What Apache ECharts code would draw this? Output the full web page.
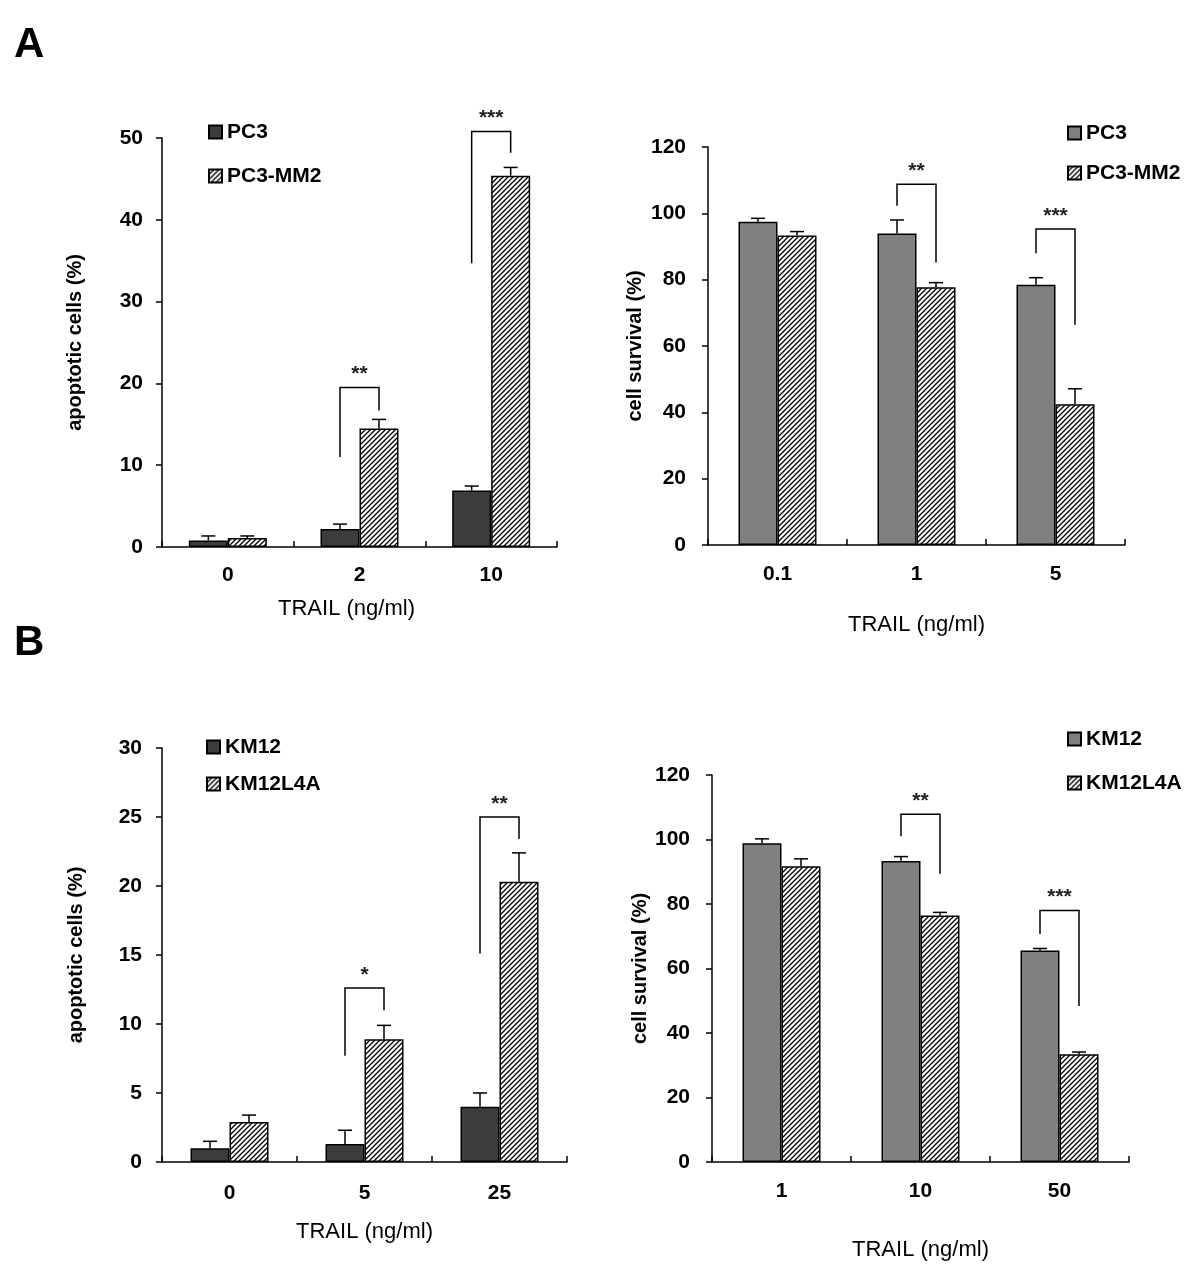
<!DOCTYPE html>
<html><head><meta charset="utf-8">
<script src="https://cdn.jsdelivr.net/npm/echarts@6/dist/echarts.min.js"></script>
<style>html,body{margin:0;padding:0;background:#fff}#c{width:1200px;height:1287px}</style>
</head><body><div id="c"></div>
<script>
// ---------- DATA ----------
const catsA1 = ['0', '2', '10'];
const pc3Apop = [0.8, 2.2, 6.9];
const pc3ApopErr = [0.55, 0.6, 0.55];
const mm2Apop = [1.1, 14.5, 45.4];
const mm2ApopErr = [0.25, 1.1, 1.0];
const sigA1 = [[1, 11.0, 19.5, 16.7], [2, 34.7, 50.8, 48.2]];
const sigA1Labels = ['**', '***'];

const catsA2 = ['0.1', '1', '5'];
const pc3Surv = [97.5, 93.9, 78.5];
const pc3SurvErr = [1.0, 4.1, 2.1];
const mm2Surv = [93.3, 77.7, 42.4];
const mm2SurvErr = [1.2, 1.4, 4.7];
const sigA2 = [[1, 102.3, 108.8, 85.2], [2, 88.0, 95.3, 66.4]];
const sigA2Labels = ['**', '***'];

const catsB1 = ['0', '5', '25'];
const km12Apop = [1.0, 1.3, 4.0];
const km12ApopErr = [0.5, 1.0, 1.0];
const l4aApop = [2.9, 8.9, 20.3];
const l4aApopErr = [0.5, 1.0, 2.1];
const sigB1 = [[1, 7.7, 12.6, 11.0], [2, 15.1, 25.0, 23.4]];
const sigB1Labels = ['*', '**'];

const catsB2 = ['1', '10', '50'];
const km12Surv = [98.8, 93.3, 65.6];
const km12SurvErr = [1.4, 1.4, 0.6];
const l4aSurv = [91.7, 76.4, 33.4];
const l4aSurvErr = [2.3, 1.0, 0.7];
const sigB2 = [[1, 101.0, 107.8, 89.4], [2, 70.7, 78.0, 48.4]];
const sigB2Labels = ['**', '***'];

const yMax = [50, 120, 30, 120];
const yInterval = [10, 20, 5, 20];
const yNames = ['apoptotic cells (%)', 'cell survival (%)', 'apoptotic cells (%)', 'cell survival (%)'];
const xName = 'TRAIL (ng/ml)';

// ---------- STYLE HELPERS ----------
const FONT = 'Liberation Sans';
const BW = 39;

function hatchCanvas() {
  const s = 5;
  const c = document.createElement('canvas');
  c.width = s; c.height = s;
  const g = c.getContext('2d');
  g.fillStyle = '#fff'; g.fillRect(0, 0, s, s);
  g.strokeStyle = '#000'; g.lineWidth = 1.3;
  g.beginPath();
  g.moveTo(-1, s + 1); g.lineTo(s + 1, -1);
  g.moveTo(-1, 1); g.lineTo(1, -1);
  g.moveTo(s - 1, s + 1); g.lineTo(s + 1, s - 1);
  g.stroke();
  return c;
}
const hatch = { image: hatchCanvas(), repeat: 'repeat' };

function errRender(off) {
  return function (params, api) {
    const c = api.value(0);
    const x = api.coord([c, 0])[0] + off;
    const y0 = api.coord([c, api.value(1)])[1];
    const y1 = api.coord([c, api.value(1) + api.value(2)])[1];
    return { type: 'group', children: [
      { type: 'line', shape: { x1: x, y1: y0, x2: x, y2: y1 }, style: { stroke: '#000', lineWidth: 1.5 } },
      { type: 'line', shape: { x1: x - 7, y1: y1, x2: x + 7, y2: y1 }, style: { stroke: '#000', lineWidth: 1.5 } }
    ] };
  };
}
function sigRender(labels) {
  return function (params, api) {
    const c = api.value(0);
    const xc = api.coord([c, 0])[0];
    const xL = xc - BW / 2, xR = xc + BW / 2;
    const yl = api.coord([c, api.value(1)])[1];
    const yt = api.coord([c, api.value(2)])[1];
    const yr = api.coord([c, api.value(3)])[1];
    return { type: 'group', children: [
      { type: 'polyline', shape: { points: [[xL, yl], [xL, yt], [xR, yt], [xR, yr]] }, style: { stroke: '#000', lineWidth: 1.5, fill: 'none' } },
      { type: 'text', x: (xL + xR) / 2, y: yt - 13, style: { text: labels[params.dataIndex], fontSize: 21, fontWeight: 'bold', fontFamily: FONT, fill: '#222', align: 'center', verticalAlign: 'middle' } }
    ] };
  };
}

const grids = [
  { left: 162, top: 138, width: 395, height: 409 },
  { left: 708, top: 147, width: 417, height: 398 },
  { left: 162, top: 748, width: 405, height: 414 },
  { left: 712, top: 775, width: 417, height: 387 }
];
const xCats = [catsA1, catsA2, catsB1, catsB2];
const xLabelMargin = [18, 19, 21, 19];
const xNameGap = [51, 69, 59, 77];
const xNamePad = [[0, 26, 0, 0], 0, 0, 0];
const yNameGap = [77, 63, 76, 62];
const yLabelMargin = [19, 22, 20, 22];

const panels = [
  { n1: 'PC3', n2: 'PC3-MM2', c1: '#3c3c3c', s1: pc3Apop, e1: pc3ApopErr, s2: mm2Apop, e2: mm2ApopErr, sig: sigA1, lab: sigA1Labels },
  { n1: 'PC3#2', n2: 'PC3-MM2#2', c1: '#808080', s1: pc3Surv, e1: pc3SurvErr, s2: mm2Surv, e2: mm2SurvErr, sig: sigA2, lab: sigA2Labels },
  { n1: 'KM12', n2: 'KM12L4A', c1: '#3c3c3c', s1: km12Apop, e1: km12ApopErr, s2: l4aApop, e2: l4aApopErr, sig: sigB1, lab: sigB1Labels },
  { n1: 'KM12#2', n2: 'KM12L4A#2', c1: '#808080', s1: km12Surv, e1: km12SurvErr, s2: l4aSurv, e2: l4aSurvErr, sig: sigB2, lab: sigB2Labels }
];
const legendPos = [
  { left: 208, top: 120, itemGap: 20 },
  { left: 1067, top: 121, itemGap: 16 },
  { left: 206, top: 735, itemGap: 13 },
  { left: 1067, top: 727, itemGap: 20 }
];

const xAxis = [], yAxis = [], series = [], legend = [];
panels.forEach((p, i) => {
  xAxis.push({
    type: 'category', gridIndex: i, data: xCats[i],
    name: xName, nameLocation: 'middle', nameGap: xNameGap[i],
    nameTextStyle: { fontFamily: FONT, fontSize: 22, color: '#000', padding: xNamePad[i] },
    axisLine: { lineStyle: { color: '#000', width: 1.5 } },
    axisTick: { show: true, inside: true, length: 6, lineStyle: { color: '#000', width: 1.5 } },
    axisLabel: { fontFamily: FONT, fontSize: 21, fontWeight: 'bold', color: '#000', margin: xLabelMargin[i] },
    splitLine: { show: false }
  });
  yAxis.push({
    type: 'value', gridIndex: i, min: 0, max: yMax[i], interval: yInterval[i],
    name: yNames[i], nameLocation: 'middle', nameGap: yNameGap[i], nameRotate: 90,
    nameTextStyle: { fontFamily: FONT, fontSize: 20, fontWeight: 'bold', color: '#000' },
    axisLine: { show: true, lineStyle: { color: '#000', width: 1.5 } },
    axisTick: { show: true, inside: false, length: 6, lineStyle: { color: '#000', width: 1.5 } },
    axisLabel: { fontFamily: FONT, fontSize: 21, fontWeight: 'bold', color: '#000', margin: yLabelMargin[i] },
    splitLine: { show: false }
  });
  series.push({
    type: 'bar', name: p.n1, xAxisIndex: i, yAxisIndex: i, data: p.s1,
    barWidth: BW, barGap: '0%',
    itemStyle: { color: p.c1, borderColor: '#000', borderWidth: 1.5 }
  });
  series.push({
    type: 'bar', name: p.n2, xAxisIndex: i, yAxisIndex: i, data: p.s2,
    barWidth: BW, barGap: '0%',
    itemStyle: { color: hatch, borderColor: '#000', borderWidth: 1.5 }
  });
  series.push({
    type: 'custom', xAxisIndex: i, yAxisIndex: i, clip: false, z: 5,
    renderItem: errRender(-BW / 2),
    data: p.s1.map((v, k) => [k, v, p.e1[k]])
  });
  series.push({
    type: 'custom', xAxisIndex: i, yAxisIndex: i, clip: false, z: 5,
    renderItem: errRender(BW / 2),
    data: p.s2.map((v, k) => [k, v, p.e2[k]])
  });
  series.push({
    type: 'custom', xAxisIndex: i, yAxisIndex: i, clip: false, z: 6,
    renderItem: sigRender(p.lab),
    data: p.sig
  });
  legend.push({
    data: [p.n1, p.n2], orient: 'vertical', left: legendPos[i].left, top: legendPos[i].top,
    itemGap: legendPos[i].itemGap, padding: 0, itemWidth: 13, itemHeight: 13, icon: 'rect',
    selectedMode: false,
    formatter: name => name.replace(/#\d$/, ''),
    textStyle: { fontFamily: FONT, fontSize: 21, fontWeight: 'bold', color: '#000', lineHeight: 24 }
  });
});

const chart = echarts.init(document.getElementById('c'), null, { renderer: 'canvas' });
chart.setOption({
  animation: false,
  backgroundColor: '#fff',
  grid: grids,
  xAxis: xAxis,
  yAxis: yAxis,
  legend: legend,
  series: series,
  graphic: [
    { type: 'text', left: 14, top: 24, style: { text: 'A', fontFamily: FONT, fontSize: 42, fontWeight: 'bold', fill: '#000' } },
    { type: 'text', left: 14, top: 622, style: { text: 'B', fontFamily: FONT, fontSize: 42, fontWeight: 'bold', fill: '#000' } }
  ]
});
</script>
</body></html>
